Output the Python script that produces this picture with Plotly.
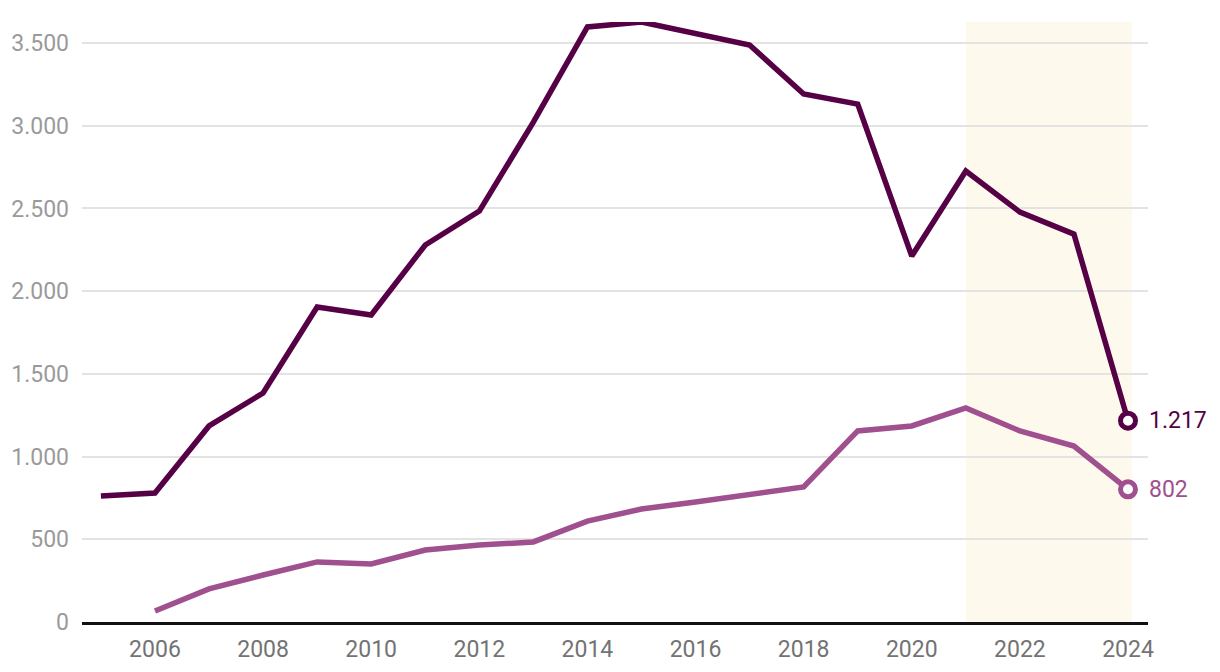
import plotly.graph_objects as go

years_a = list(range(2005, 2025))
series_a = [762, 780, 1185, 1384, 1904, 1856, 2279, 2484, 3022, 3597, 3627, 3560, 3488, 3192, 3131, 2212, 2726, 2478, 2345, 1217]
years_b = list(range(2006, 2025))
series_b = [66, 200, 284, 363, 351, 435, 465, 484, 610, 683, 725, 768, 816, 1155, 1185, 1294, 1155, 1064, 802]
color_a = "#560046"
color_b = "#a0508e"
y_ticks = [0, 500, 1000, 1500, 2000, 2500, 3000, 3500]
x_ticks = list(range(2006, 2025, 2))
highlight = (2021, 2024.07)

fig = go.Figure()
fig.add_shape(type="rect", xref="x", yref="paper", x0=highlight[0], x1=highlight[1], y0=0, y1=1,
              fillcolor="#fef9ed", line_width=0, layer="below")

for yrs, vals, col in [(years_a, series_a, color_a), (years_b, series_b, color_b)]:
    fig.add_trace(go.Scatter(x=yrs, y=vals, mode="lines", line=dict(color=col, width=5.5),
                             hoverinfo="skip", showlegend=False, cliponaxis=False))
    fig.add_trace(go.Scatter(x=[yrs[-1]], y=[vals[-1]], mode="markers",
                             marker=dict(size=15, color="white", line=dict(color=col, width=5)),
                             showlegend=False, cliponaxis=False))
    fig.add_annotation(x=yrs[-1], y=vals[-1], text=f"{vals[-1]:,}".replace(",", "."),
                       showarrow=False, xanchor="left", yanchor="middle", xshift=19,
                       font=dict(size=23, color=col, family="Roboto"))

fig.update_layout(
    width=1220, height=672,
    margin=dict(l=74, r=80, t=14, b=58),
    plot_bgcolor="white", paper_bgcolor="white",
    separators=",.",
    font=dict(family="Roboto"),
    xaxis=dict(range=[2004.65, 2024.37], tickvals=x_ticks, showgrid=False, zeroline=False,
               showline=True, linecolor="#111111", linewidth=3, automargin=False,
               tickfont=dict(size=23, color="#737373"), ticks="", ticklabelstandoff=4),
    yaxis=dict(range=[0, 3627], tickvals=y_ticks, ticktext=[f"{v:,}".replace(",", ".") for v in y_ticks],
               showgrid=True, gridcolor="#e3e3e3", gridwidth=1.5, zeroline=False, showline=False,
               automargin=False,
               tickfont=dict(size=23, color="#9a9a9a"), ticks="", ticklabelstandoff=12),
)
fig.write_html("out.html")
